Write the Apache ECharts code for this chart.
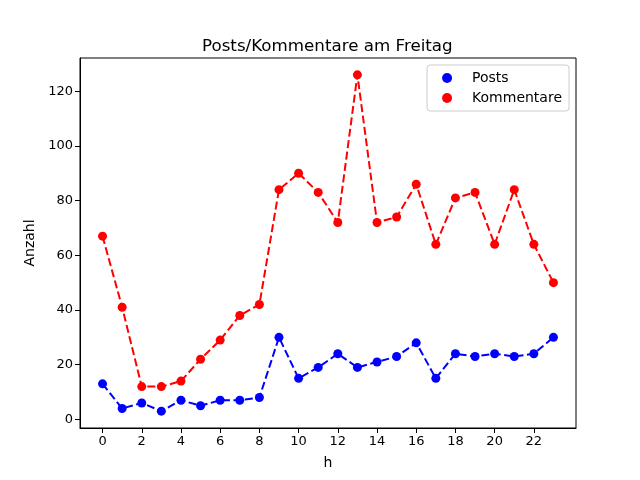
<!DOCTYPE html>
<html>
<head>
<meta charset="utf-8">
<script src="https://cdn.jsdelivr.net/npm/echarts@6/dist/echarts.min.js"></script>
<style>
  html, body { margin: 0; padding: 0; background: #fff; }
  #chart { width: 640px; height: 480px; }
</style>
</head>
<body>
<div id="chart"></div>
<script>
let hours = [0,1,2,3,4,5,6,7,8,9,10,11,12,13,14,15,16,17,18,19,20,21,22,23]
let posts = [13,4,6,3,7,5,7,7,8,30,15,19,24,19,21,23,28,15,24,23,24,23,24,30]
let kommentare = [67,41,12,12,14,22,29,38,42,84,90,83,72,126,72,74,86,64,81,83,64,84,64,50]
let xTicks = [0,2,4,6,8,10,12,14,16,18,20,22]
let yTicks = [0,20,40,60,80,100,120]

function pairs(vals) {
  return hours.map((h, i) => [h, vals[i]])
}

let font = 'DejaVu Sans'
let chart = echarts.init(document.getElementById('chart'))

function lineSeries(name, color, vals) {
  return {
    name: name,
    type: 'line',
    data: pairs(vals),
    symbol: 'circle',
    symbolSize: 9,
    itemStyle: { color: color },
    lineStyle: { color: color, width: 2, type: [8, 3.5] },
    animation: false
  }
}

chart.setOption({
  backgroundColor: '#fff',
  textStyle: { fontFamily: font },
  title: {
    text: 'Posts/Kommentare am Freitag',
    left: 197,
    top: 33,
    textStyle: { fontFamily: font, fontSize: 16.7, fontWeight: 'normal', color: '#000' }
  },
  legend: {
    right: 71,
    top: 65,
    orient: 'vertical',
    icon: 'circle',
    itemWidth: 10,
    itemHeight: 10,
    itemGap: 6,
    padding: [6, 7, 6, 15],
    borderColor: '#ccc',
    borderWidth: 1,
    borderRadius: 3,
    textStyle: { fontFamily: font, fontSize: 14, color: '#000', padding: [0, 0, 0, 15] },
    data: ['Posts', 'Kommentare']
  },
  grid: {
    left: 80, right: 64, top: 58, bottom: 52,
    show: true, borderColor: '#000', borderWidth: 1
  },
  xAxis: {
    type: 'value',
    min: -1.15,
    max: 24.15,
    name: 'h',
    nameLocation: 'middle',
    nameGap: 28,
    nameTextStyle: { fontFamily: font, fontSize: 14, color: '#000' },
    axisLine: { show: true, onZero: false, lineStyle: { color: '#000', width: 1 } },
    axisTick: { show: true, inside: false, length: 5, customValues: xTicks, lineStyle: { color: '#000' } },
    axisLabel: { customValues: xTicks, fontFamily: font, fontSize: 13, color: '#000', margin: 7 },
    splitLine: { show: false }
  },
  yAxis: {
    type: 'value',
    min: -3.15,
    max: 132.15,
    name: 'Anzahl',
    nameLocation: 'middle',
    nameGap: 43,
    nameTextStyle: { fontFamily: font, fontSize: 14, color: '#000' },
    axisLine: { show: true, onZero: false, lineStyle: { color: '#000', width: 1 } },
    axisTick: { show: true, inside: false, length: 5, customValues: yTicks, lineStyle: { color: '#000' } },
    axisLabel: { customValues: yTicks, fontFamily: font, fontSize: 13, color: '#000', margin: 7 },
    splitLine: { show: false }
  },
  series: [
    lineSeries('Posts', '#0000ff', posts),
    lineSeries('Kommentare', '#ff0000', kommentare)
  ]
})
</script>
</body>
</html>
